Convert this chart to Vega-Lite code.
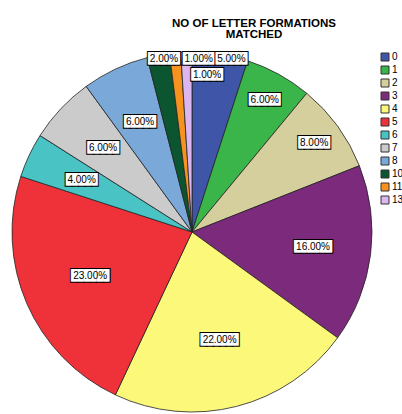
{
  "$schema": "https://vega.github.io/schema/vega-lite/v6.json",
  "autosize": "none",
  "width": 360,
  "height": 360,
  "padding": {"left": 12, "top": 52, "right": 30, "bottom": 2},
  "background": "white",
  "title": {"text": ["NO OF LETTER FORMATIONS", "MATCHED"], "font": "Liberation Sans", "fontSize": 11.5, "fontWeight": "bold", "lineHeight": 11, "anchor": "middle", "frame": "group", "dx": 62, "offset": 10, "color": "black"},
  "data": {"values": [
    {"cat": 0, "pct": 0.05},
    {"cat": 1, "pct": 0.06},
    {"cat": 2, "pct": 0.08},
    {"cat": 3, "pct": 0.16},
    {"cat": 4, "pct": 0.22},
    {"cat": 5, "pct": 0.23},
    {"cat": 6, "pct": 0.04},
    {"cat": 7, "pct": 0.06},
    {"cat": 8, "pct": 0.06},
    {"cat": 10, "pct": 0.02},
    {"cat": 11, "pct": 0.01},
    {"cat": 13, "pct": 0.01}
  ]},
  "config": {"view": {"stroke": null}},
  "layer": [
    {"mark": {"type": "arc", "stroke": "#222222", "strokeWidth": 0.8},
     "encoding": {
       "theta": {"field": "pct", "type": "quantitative", "stack": true},
       "order": {"field": "cat", "type": "quantitative"},
       "color": {"field": "cat", "type": "nominal", "title": null,
         "scale": {"domain": [0,1,2,3,4,5,6,7,8,10,11,13], "range": ["#3f56a8","#3ab54a","#d5cf9d","#7c2a7c","#fbf87a","#ef3139","#4ac3c5","#cbcbcb","#7aa8d8","#0b5631","#f6921e","#dbb6ef"]},
         "legend": {"orient": "none", "legendX": 368, "legendY": 0, "symbolType": "square", "symbolSize": 64, "symbolStrokeColor": "#333333", "symbolStrokeWidth": 1, "labelFont": "Liberation Sans", "labelFontSize": 10, "labelColor": "black", "labelOffset": 2, "rowPadding": 1}}
     }},
    {"mark": {"type": "text", "radius": 122, "font": "DejaVu Sans Mono", "fontSize": 10.6, "fill": "black", "stroke": "black", "strokeWidth": 2, "baseline": "middle"},
     "encoding": {"theta": {"field": "pct", "type": "quantitative", "stack": true}, "order": {"field": "cat", "type": "quantitative"},
       "text": {"condition": [{"test": "(datum.cat==3||datum.cat==6||datum.cat==7||datum.cat==8) && datum.pct>=0.1", "value": "\u2588\u2588\u2588\u2588\u2588\u2588"}, {"test": "datum.cat==3||datum.cat==6||datum.cat==7||datum.cat==8", "value": "\u2588\u2588\u2588\u2588\u2588"}], "value": ""}}},
    {"mark": {"type": "text", "radius": 122, "font": "DejaVu Sans Mono", "fontSize": 10.6, "fill": "white", "baseline": "middle"},
     "encoding": {"theta": {"field": "pct", "type": "quantitative", "stack": true}, "order": {"field": "cat", "type": "quantitative"},
       "text": {"condition": [{"test": "(datum.cat==3||datum.cat==6||datum.cat==7||datum.cat==8) && datum.pct>=0.1", "value": "\u2588\u2588\u2588\u2588\u2588\u2588"}, {"test": "datum.cat==3||datum.cat==6||datum.cat==7||datum.cat==8", "value": "\u2588\u2588\u2588\u2588\u2588"}], "value": ""}}},
    {"mark": {"type": "text", "radius": 122, "font": "Liberation Sans", "fontSize": 10, "fill": "black", "baseline": "middle"},
     "encoding": {"theta": {"field": "pct", "type": "quantitative", "stack": true}, "order": {"field": "cat", "type": "quantitative"},
       "text": {"condition": {"test": "datum.cat==3||datum.cat==6||datum.cat==7||datum.cat==8", "field": "pct", "type": "quantitative", "format": ".2%"}, "value": ""}}},

    {"mark": {"type": "text", "radius": 111, "font": "DejaVu Sans Mono", "fontSize": 10.6, "fill": "black", "stroke": "black", "strokeWidth": 2, "baseline": "middle"},
     "encoding": {"theta": {"field": "pct", "type": "quantitative", "stack": true}, "order": {"field": "cat", "type": "quantitative"},
       "text": {"condition": {"test": "datum.cat==4||datum.cat==5", "value": "\u2588\u2588\u2588\u2588\u2588\u2588"}, "value": ""}}},
    {"mark": {"type": "text", "radius": 111, "font": "DejaVu Sans Mono", "fontSize": 10.6, "fill": "white", "baseline": "middle"},
     "encoding": {"theta": {"field": "pct", "type": "quantitative", "stack": true}, "order": {"field": "cat", "type": "quantitative"},
       "text": {"condition": {"test": "datum.cat==4||datum.cat==5", "value": "\u2588\u2588\u2588\u2588\u2588\u2588"}, "value": ""}}},
    {"mark": {"type": "text", "radius": 111, "font": "Liberation Sans", "fontSize": 10, "fill": "black", "baseline": "middle"},
     "encoding": {"theta": {"field": "pct", "type": "quantitative", "stack": true}, "order": {"field": "cat", "type": "quantitative"},
       "text": {"condition": {"test": "datum.cat==4||datum.cat==5", "field": "pct", "type": "quantitative", "format": ".2%"}, "value": ""}}},

    {"mark": {"type": "text", "radius": 151, "font": "DejaVu Sans Mono", "fontSize": 10.6, "fill": "black", "stroke": "black", "strokeWidth": 2, "baseline": "middle"},
     "encoding": {"theta": {"field": "pct", "type": "quantitative", "stack": true}, "order": {"field": "cat", "type": "quantitative"},
       "text": {"condition": {"test": "datum.cat==1||datum.cat==2", "value": "\u2588\u2588\u2588\u2588\u2588"}, "value": ""}}},
    {"mark": {"type": "text", "radius": 151, "font": "DejaVu Sans Mono", "fontSize": 10.6, "fill": "white", "baseline": "middle"},
     "encoding": {"theta": {"field": "pct", "type": "quantitative", "stack": true}, "order": {"field": "cat", "type": "quantitative"},
       "text": {"condition": {"test": "datum.cat==1||datum.cat==2", "value": "\u2588\u2588\u2588\u2588\u2588"}, "value": ""}}},
    {"mark": {"type": "text", "radius": 151, "font": "Liberation Sans", "fontSize": 10, "fill": "black", "baseline": "middle"},
     "encoding": {"theta": {"field": "pct", "type": "quantitative", "stack": true}, "order": {"field": "cat", "type": "quantitative"},
       "text": {"condition": {"test": "datum.cat==1||datum.cat==2", "field": "pct", "type": "quantitative", "format": ".2%"}, "value": ""}}},

    {"mark": {"type": "text", "radius": 176, "dx": 5, "font": "DejaVu Sans Mono", "fontSize": 10.6, "fill": "black", "stroke": "black", "strokeWidth": 2, "baseline": "middle"},
     "encoding": {"theta": {"field": "pct", "type": "quantitative", "stack": true}, "order": {"field": "cat", "type": "quantitative"},
       "text": {"condition": {"test": "datum.cat==10", "value": "\u2588\u2588\u2588\u2588\u2588"}, "value": ""}}},
    {"mark": {"type": "text", "radius": 176, "dx": 5, "font": "DejaVu Sans Mono", "fontSize": 10.6, "fill": "white", "baseline": "middle"},
     "encoding": {"theta": {"field": "pct", "type": "quantitative", "stack": true}, "order": {"field": "cat", "type": "quantitative"},
       "text": {"condition": {"test": "datum.cat==10", "value": "\u2588\u2588\u2588\u2588\u2588"}, "value": ""}}},
    {"mark": {"type": "text", "radius": 176, "dx": 5, "font": "Liberation Sans", "fontSize": 10, "fill": "black", "baseline": "middle"},
     "encoding": {"theta": {"field": "pct", "type": "quantitative", "stack": true}, "order": {"field": "cat", "type": "quantitative"},
       "text": {"condition": {"test": "datum.cat==10", "field": "pct", "type": "quantitative", "format": ".2%"}, "value": ""}}},

    {"mark": {"type": "text", "radius": 173.5, "dx": 23, "font": "DejaVu Sans Mono", "fontSize": 10.6, "fill": "black", "stroke": "black", "strokeWidth": 2, "baseline": "middle"},
     "encoding": {"theta": {"field": "pct", "type": "quantitative", "stack": true}, "order": {"field": "cat", "type": "quantitative"},
       "text": {"condition": {"test": "datum.cat==11", "value": "\u2588\u2588\u2588\u2588\u2588"}, "value": ""}}},
    {"mark": {"type": "text", "radius": 173.5, "dx": 23, "font": "DejaVu Sans Mono", "fontSize": 10.6, "fill": "white", "baseline": "middle"},
     "encoding": {"theta": {"field": "pct", "type": "quantitative", "stack": true}, "order": {"field": "cat", "type": "quantitative"},
       "text": {"condition": {"test": "datum.cat==11", "value": "\u2588\u2588\u2588\u2588\u2588"}, "value": ""}}},
    {"mark": {"type": "text", "radius": 173.5, "dx": 23, "font": "Liberation Sans", "fontSize": 10, "fill": "black", "baseline": "middle"},
     "encoding": {"theta": {"field": "pct", "type": "quantitative", "stack": true}, "order": {"field": "cat", "type": "quantitative"},
       "text": {"condition": {"test": "datum.cat==11", "field": "pct", "type": "quantitative", "format": ".2%"}, "value": ""}}},

    {"mark": {"type": "text", "radius": 157, "dx": 20, "font": "DejaVu Sans Mono", "fontSize": 10.6, "fill": "black", "stroke": "black", "strokeWidth": 2, "baseline": "middle"},
     "encoding": {"theta": {"field": "pct", "type": "quantitative", "stack": true}, "order": {"field": "cat", "type": "quantitative"},
       "text": {"condition": {"test": "datum.cat==13", "value": "\u2588\u2588\u2588\u2588\u2588"}, "value": ""}}},
    {"mark": {"type": "text", "radius": 157, "dx": 20, "font": "DejaVu Sans Mono", "fontSize": 10.6, "fill": "white", "baseline": "middle"},
     "encoding": {"theta": {"field": "pct", "type": "quantitative", "stack": true}, "order": {"field": "cat", "type": "quantitative"},
       "text": {"condition": {"test": "datum.cat==13", "value": "\u2588\u2588\u2588\u2588\u2588"}, "value": ""}}},
    {"mark": {"type": "text", "radius": 157, "dx": 20, "font": "Liberation Sans", "fontSize": 10, "fill": "black", "baseline": "middle"},
     "encoding": {"theta": {"field": "pct", "type": "quantitative", "stack": true}, "order": {"field": "cat", "type": "quantitative"},
       "text": {"condition": {"test": "datum.cat==13", "field": "pct", "type": "quantitative", "format": ".2%"}, "value": ""}}},

    {"mark": {"type": "text", "radius": 175, "dx": 12, "font": "DejaVu Sans Mono", "fontSize": 10.6, "fill": "black", "stroke": "black", "strokeWidth": 2, "baseline": "middle"},
     "encoding": {"theta": {"field": "pct", "type": "quantitative", "stack": true}, "order": {"field": "cat", "type": "quantitative"},
       "text": {"condition": {"test": "datum.cat==0", "value": "\u2588\u2588\u2588\u2588\u2588"}, "value": ""}}},
    {"mark": {"type": "text", "radius": 175, "dx": 12, "font": "DejaVu Sans Mono", "fontSize": 10.6, "fill": "white", "baseline": "middle"},
     "encoding": {"theta": {"field": "pct", "type": "quantitative", "stack": true}, "order": {"field": "cat", "type": "quantitative"},
       "text": {"condition": {"test": "datum.cat==0", "value": "\u2588\u2588\u2588\u2588\u2588"}, "value": ""}}},
    {"mark": {"type": "text", "radius": 175, "dx": 12, "font": "Liberation Sans", "fontSize": 10, "fill": "black", "baseline": "middle"},
     "encoding": {"theta": {"field": "pct", "type": "quantitative", "stack": true}, "order": {"field": "cat", "type": "quantitative"},
       "text": {"condition": {"test": "datum.cat==0", "field": "pct", "type": "quantitative", "format": ".2%"}, "value": ""}}}
  ]
}
